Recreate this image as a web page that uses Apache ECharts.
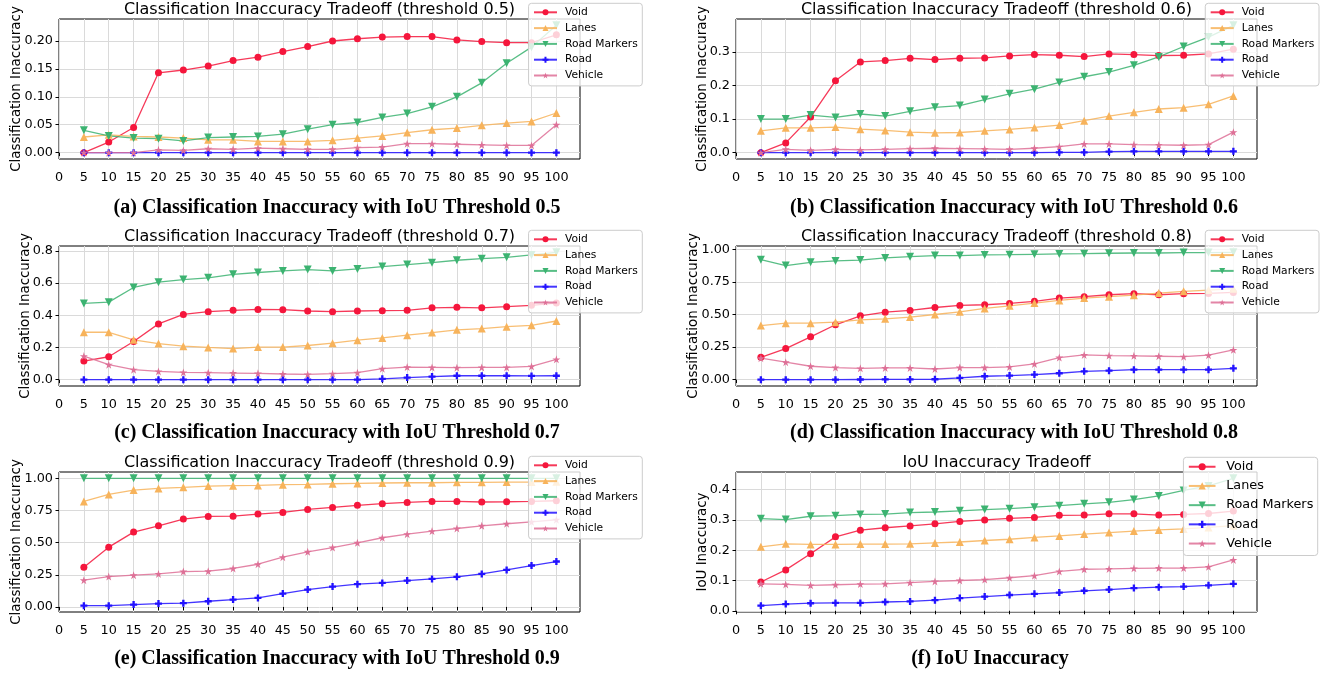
<!DOCTYPE html>
<html lang="en">
<head>
<meta charset="UTF-8">
<title>Inaccuracy Tradeoff</title>
<script src="https://cdn.jsdelivr.net/npm/echarts@6/dist/echarts.min.js"></script>
<style>
  html, body { margin: 0; padding: 0; background: #fff; }
  #chart { width: 1337px; height: 677px; }
</style>
</head>
<body>
<div id="chart"></div>
<script>
// x positions shared by every subplot
const steps = [5, 10, 15, 20, 25, 30, 35, 40, 45, 50, 55, 60, 65, 70, 75, 80, 85, 90, 95, 100];
const xTicks = [0, 5, 10, 15, 20, 25, 30, 35, 40, 45, 50, 55, 60, 65, 70, 75, 80, 85, 90, 95, 100];
const seriesNames = ['Void', 'Lanes', 'Road Markers', 'Road', 'Vehicle'];

const plotTitles = [
    'Classification Inaccuracy Tradeoff (threshold 0.5)',
    'Classification Inaccuracy Tradeoff (threshold 0.6)',
    'Classification Inaccuracy Tradeoff (threshold 0.7)',
    'Classification Inaccuracy Tradeoff (threshold 0.8)',
    'Classification Inaccuracy Tradeoff (threshold 0.9)',
    'IoU Inaccuracy Tradeoff'
];
const captions = [
    '(a) Classification Inaccuracy with IoU Threshold 0.5',
    '(b) Classification Inaccuracy with IoU Threshold 0.6',
    '(c) Classification Inaccuracy with IoU Threshold 0.7',
    '(d) Classification Inaccuracy with IoU Threshold 0.8',
    '(e) Classification Inaccuracy with IoU Threshold 0.9',
    '(f) IoU Inaccuracy'
];
const yNames = ['Classification Inaccuracy', 'Classification Inaccuracy', 'Classification Inaccuracy',
                'Classification Inaccuracy', 'Classification Inaccuracy', 'IoU Inaccuracy'];

// y tick labels per subplot
const yTicks05 = [0, 0.05, 0.10, 0.15, 0.20];
const yTicks06 = [0, 0.1, 0.2, 0.3];
const yTicks07 = [0, 0.2, 0.4, 0.6, 0.8];
const yTicks08 = [0, 0.25, 0.50, 0.75, 1.00];
const yTicks09 = [0, 0.25, 0.50, 0.75, 1.00];
const yTicksIou = [0, 0.1, 0.2, 0.3, 0.4];

// threshold 0.5
const void05 = [0.000, 0.019, 0.045, 0.143, 0.148, 0.155, 0.165, 0.171, 0.181, 0.190, 0.200, 0.204, 0.207, 0.208, 0.208, 0.202, 0.199, 0.197, 0.197, 0.211];
const lanes05 = [0.028, 0.032, 0.029, 0.028, 0.026, 0.023, 0.023, 0.020, 0.020, 0.020, 0.022, 0.026, 0.030, 0.036, 0.041, 0.044, 0.049, 0.053, 0.056, 0.071];
const markers05 = [0.040, 0.030, 0.026, 0.025, 0.021, 0.027, 0.028, 0.029, 0.033, 0.042, 0.050, 0.054, 0.063, 0.070, 0.082, 0.100, 0.125, 0.160, 0.189, 0.228];
const road05 = [0, 0, 0, 0, 0, 0, 0, 0, 0, 0, 0, 0, 0, 0, 0, 0, 0, 0, 0, 0];
const vehicle05 = [0.000, 0.000, 0.000, 0.005, 0.004, 0.007, 0.006, 0.008, 0.007, 0.006, 0.006, 0.009, 0.010, 0.016, 0.016, 0.015, 0.014, 0.013, 0.013, 0.050];

// threshold 0.6
const void06 = [0.000, 0.029, 0.106, 0.214, 0.270, 0.274, 0.281, 0.277, 0.281, 0.282, 0.288, 0.292, 0.290, 0.286, 0.294, 0.292, 0.289, 0.290, 0.294, 0.308];
const lanes06 = [0.065, 0.074, 0.074, 0.076, 0.070, 0.066, 0.061, 0.059, 0.060, 0.065, 0.069, 0.075, 0.082, 0.095, 0.109, 0.120, 0.130, 0.134, 0.144, 0.169];
const markers06 = [0.100, 0.100, 0.112, 0.105, 0.115, 0.109, 0.123, 0.135, 0.140, 0.158, 0.175, 0.189, 0.209, 0.226, 0.240, 0.260, 0.285, 0.316, 0.344, 0.379];
const road06 = [0, 0, 0, 0, 0, 0, 0, 0, 0, 0, 0, 0, 0.001, 0.001, 0.003, 0.004, 0.004, 0.004, 0.004, 0.004];
const vehicle06 = [0.000, 0.010, 0.007, 0.010, 0.008, 0.010, 0.012, 0.013, 0.012, 0.011, 0.010, 0.013, 0.018, 0.026, 0.026, 0.024, 0.023, 0.022, 0.024, 0.061];

// threshold 0.7
const void07 = [0.115, 0.142, 0.237, 0.346, 0.405, 0.422, 0.430, 0.436, 0.434, 0.426, 0.422, 0.426, 0.428, 0.430, 0.446, 0.449, 0.446, 0.453, 0.461, 0.475];
const lanes07 = [0.294, 0.294, 0.247, 0.224, 0.208, 0.200, 0.193, 0.202, 0.202, 0.212, 0.226, 0.245, 0.259, 0.276, 0.292, 0.309, 0.317, 0.329, 0.337, 0.364];
const markers07 = [0.473, 0.481, 0.572, 0.605, 0.621, 0.632, 0.654, 0.665, 0.675, 0.683, 0.675, 0.687, 0.702, 0.714, 0.726, 0.741, 0.751, 0.759, 0.774, 0.790];
const road07 = [0, 0, 0, 0, 0, 0, 0, 0, 0, 0, 0, 0, 0.005, 0.013, 0.019, 0.024, 0.024, 0.024, 0.023, 0.024];
const vehicle07 = [0.146, 0.093, 0.062, 0.051, 0.045, 0.043, 0.041, 0.039, 0.035, 0.033, 0.037, 0.043, 0.068, 0.078, 0.076, 0.074, 0.076, 0.076, 0.082, 0.126];

// threshold 0.8
const void08 = [0.172, 0.239, 0.329, 0.422, 0.491, 0.519, 0.532, 0.555, 0.571, 0.576, 0.586, 0.602, 0.627, 0.638, 0.653, 0.661, 0.653, 0.661, 0.663, 0.671];
const lanes08 = [0.416, 0.434, 0.434, 0.442, 0.460, 0.468, 0.481, 0.501, 0.522, 0.548, 0.568, 0.589, 0.609, 0.627, 0.638, 0.650, 0.666, 0.679, 0.689, 0.699];
const markers08 = [0.923, 0.877, 0.902, 0.913, 0.920, 0.936, 0.946, 0.954, 0.954, 0.959, 0.961, 0.964, 0.967, 0.969, 0.972, 0.974, 0.974, 0.977, 0.977, 0.979];
const road08 = [0, 0, 0, 0, 0.001, 0.002, 0.002, 0.003, 0.013, 0.026, 0.031, 0.039, 0.049, 0.064, 0.069, 0.077, 0.077, 0.077, 0.077, 0.087];
const vehicle08 = [0.165, 0.134, 0.103, 0.093, 0.087, 0.090, 0.090, 0.082, 0.093, 0.093, 0.098, 0.121, 0.170, 0.190, 0.185, 0.183, 0.180, 0.177, 0.188, 0.229];

// threshold 0.9
const void09 = [0.309, 0.465, 0.582, 0.631, 0.683, 0.704, 0.706, 0.722, 0.735, 0.758, 0.774, 0.790, 0.803, 0.813, 0.821, 0.821, 0.816, 0.818, 0.821, 0.826];
const lanes09 = [0.821, 0.875, 0.909, 0.922, 0.930, 0.940, 0.943, 0.945, 0.951, 0.953, 0.958, 0.961, 0.964, 0.966, 0.966, 0.969, 0.969, 0.971, 0.971, 0.974];
const markers09 = [1.000, 1.000, 1.000, 1.000, 1.000, 1.000, 1.000, 1.000, 1.000, 1.000, 1.000, 1.000, 1.000, 1.000, 1.000, 1.000, 1.000, 1.000, 1.000, 1.000];
const road09 = [0.010, 0.010, 0.018, 0.026, 0.029, 0.044, 0.057, 0.070, 0.104, 0.135, 0.158, 0.177, 0.187, 0.205, 0.218, 0.234, 0.257, 0.288, 0.322, 0.353];
const vehicle09 = [0.208, 0.236, 0.247, 0.257, 0.275, 0.278, 0.299, 0.332, 0.387, 0.429, 0.462, 0.499, 0.538, 0.566, 0.590, 0.610, 0.631, 0.647, 0.662, 0.678];

// IoU inaccuracy
const voidIou = [0.095, 0.135, 0.188, 0.244, 0.266, 0.274, 0.280, 0.287, 0.295, 0.300, 0.305, 0.308, 0.315, 0.316, 0.320, 0.320, 0.316, 0.318, 0.321, 0.329];
const lanesIou = [0.211, 0.221, 0.219, 0.219, 0.220, 0.220, 0.221, 0.224, 0.227, 0.232, 0.236, 0.242, 0.247, 0.253, 0.258, 0.263, 0.267, 0.270, 0.275, 0.281];
const markersIou = [0.304, 0.301, 0.312, 0.314, 0.318, 0.319, 0.324, 0.326, 0.330, 0.334, 0.337, 0.342, 0.347, 0.353, 0.358, 0.367, 0.379, 0.397, 0.412, 0.437];
const roadIou = [0.017, 0.022, 0.025, 0.026, 0.026, 0.029, 0.031, 0.035, 0.042, 0.047, 0.052, 0.056, 0.060, 0.066, 0.070, 0.075, 0.078, 0.080, 0.084, 0.089];
const vehicleIou = [0.089, 0.087, 0.084, 0.086, 0.088, 0.089, 0.093, 0.097, 0.100, 0.103, 0.109, 0.116, 0.130, 0.137, 0.138, 0.140, 0.141, 0.141, 0.145, 0.168];

// look of the lines (matplotlib style markers)
const colors = ['#f5163c', '#f7b35b', '#3cb371', '#2212ff', '#de7097'];
const plusPath = 'path://M-1,-3H1V-1H3V1H1V3H-1V1H-3V-1H-1Z';
const starPath = 'path://M0,-1L0.2245,-0.309L0.951,-0.309L0.3633,0.118L0.5878,0.809L0,0.382L-0.5878,0.809L-0.3633,0.118L-0.951,-0.309L-0.2245,-0.309Z';
const symbols = ['circle', 'triangle', 'triangle', plusPath, starPath];
const symbolRotates = [0, 0, 180, 0, 0];
const symbolSizes = [7, 8, 8, 7, 8];

const FONT = 'DejaVu Sans';
const plotW = 521, plotH = 140;

const panels = [
    { data: [void05, lanes05, markers05, road05, vehicle05], yTicks: yTicks05, digits: 2, left: 59, top: 19, nameGap: 36, legendRight: 694.7, big: false, cap: [337, 208] },
    { data: [void06, lanes06, markers06, road06, vehicle06], yTicks: yTicks06, digits: 1, left: 736, top: 19, nameGap: 27, legendRight: 18, big: false, cap: [1014, 208] },
    { data: [void07, lanes07, markers07, road07, vehicle07], yTicks: yTicks07, digits: 1, left: 59, top: 246, nameGap: 27, legendRight: 694.7, big: false, cap: [337, 433] },
    { data: [void08, lanes08, markers08, road08, vehicle08], yTicks: yTicks08, digits: 2, left: 736, top: 246, nameGap: 36, legendRight: 18, big: false, cap: [1014, 433] },
    { data: [void09, lanes09, markers09, road09, vehicle09], yTicks: yTicks09, digits: 2, left: 59, top: 472, nameGap: 36, legendRight: 694.7, big: false, cap: [337, 659] },
    { data: [voidIou, lanesIou, markersIou, roadIou, vehicleIou], yTicks: yTicksIou, digits: 1, left: 736, top: 472, nameGap: 27, legendRight: 19.3, big: true, cap: [990, 659] }
];

const grid = [], xAxis = [], yAxis = [], series = [], legend = [], texts = [];
const xMax = Math.max(...steps) + (Math.max(...steps) - Math.min(...steps)) * 0.05;

panels.forEach((p, i) => {
    const all = p.data.flat();
    const lo = Math.min(...all), hi = Math.max(...all);
    const pad = (hi - lo) * 0.05;
    const step = p.yTicks[1] - p.yTicks[0];

    grid.push({
        left: p.left, top: p.top, width: plotW, height: plotH,
        show: true, borderColor: '#000', borderWidth: 1, backgroundColor: 'transparent'
    });
    xAxis.push({
        type: 'value', gridIndex: i, min: 0, max: xMax,
        minInterval: 5, maxInterval: 5, splitNumber: 21,
        axisLine: { show: false },
        axisTick: { show: true, length: 3.5, customValues: xTicks, lineStyle: { color: '#000', width: 1 } },
        axisLabel: {
            customValues: xTicks, margin: 12,
            color: '#000', fontFamily: FONT, fontSize: 12.8
        },
        splitLine: { show: true, lineStyle: { color: '#dadada', width: 1 } }
    });
    yAxis.push({
        type: 'value', gridIndex: i, min: lo - pad, max: hi + pad,
        minInterval: step, maxInterval: step, splitNumber: 5,
        name: yNames[i], nameLocation: 'middle', nameGap: p.nameGap, nameMoveOverlap: false,
        nameTextStyle: { color: '#000', fontFamily: FONT, fontSize: 13.4 },
        axisLine: { show: false },
        axisTick: { show: true, length: 3.5, customValues: p.yTicks, lineStyle: { color: '#000', width: 1 } },
        axisLabel: {
            customValues: p.yTicks, margin: 6,
            color: '#000', fontFamily: FONT, fontSize: 12.8,
            formatter: v => v.toFixed(p.digits)
        },
        splitLine: { show: true, lineStyle: { color: '#dadada', width: 1 } }
    });

    p.data.forEach((vals, k) => {
        series.push({
            name: seriesNames[k], type: 'line', xAxisIndex: i, yAxisIndex: i,
            data: steps.map((x, j) => [x, vals[j]]),
            symbol: symbols[k], symbolSize: symbolSizes[k], symbolRotate: symbolRotates[k],
            showAllSymbol: true,
            lineStyle: { color: colors[k], width: 1.3, opacity: 0.85 },
            itemStyle: { color: colors[k], opacity: 1 },
            emphasis: { disabled: true },
            animation: false
        });
    });

    const fs = p.big ? 12.8 : 10.7;
    legend.push({
        data: seriesNames, orient: 'vertical',
        right: p.legendRight, top: p.big ? p.top - 14.7 : p.top - 15.7,
        selectedMode: false,
        itemWidth: p.big ? 26.7 : 23, itemHeight: p.big ? 9 : 7.5,
        itemGap: p.big ? 4.7 : 3.8,
        padding: p.big ? [2.2, 4.4, 4.7, 4.4] : [3, 4.6, 4.4, 4.4],
        backgroundColor: 'rgba(255,255,255,0.8)', borderColor: '#cccccc', borderWidth: 1, borderRadius: 3,
        textStyle: {
            color: '#000', fontFamily: FONT, fontSize: fs,
            lineHeight: p.big ? 14.5 : 12, padding: [0, 0, 0, p.big ? 5.7 : 3]
        }
    });

    texts.push({
        type: 'text', x: p.left + plotW / 2, y: p.top - 9.5,
        style: {
            text: plotTitles[i], fill: '#000', font: '16px "' + FONT + '"',
            align: 'center', verticalAlign: 'middle', textAlign: 'center', textVerticalAlign: 'middle'
        }
    });
    texts.push({
        type: 'text', x: p.cap[0], y: p.cap[1],
        style: {
            text: captions[i], fill: '#000', font: 'bold 20px "Liberation Serif"',
            align: 'center', verticalAlign: 'middle', textAlign: 'center', textVerticalAlign: 'middle'
        }
    });
});

const chart = echarts.init(document.getElementById('chart'));
chart.setOption({
    animation: false,
    backgroundColor: '#fff',
    grid: grid,
    xAxis: xAxis,
    yAxis: yAxis,
    legend: legend,
    series: series,
    graphic: { elements: texts }
});
</script>
</body>
</html>
